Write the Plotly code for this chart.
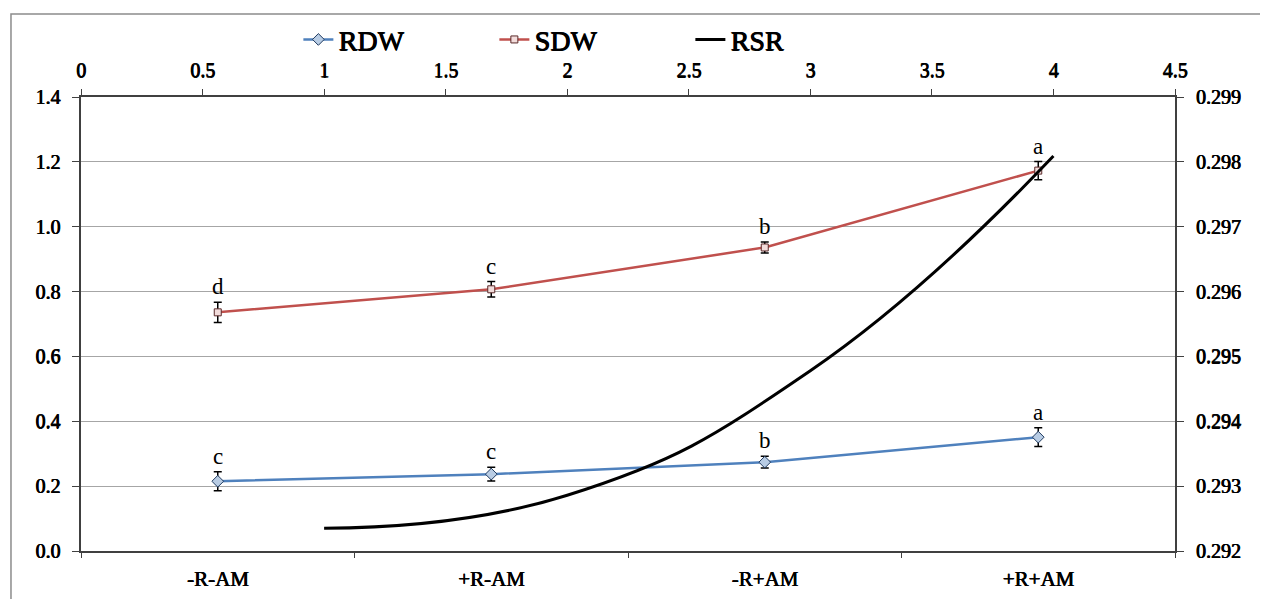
import plotly.graph_objects as go

categories = ['-R-AM', '+R-AM', '-R+AM', '+R+AM']
rdw = [0.215, 0.237, 0.274, 0.351]
rdw_err = [0.029, 0.021, 0.018, 0.029]
rdw_letters = ['c', 'c', 'b', 'a']
sdw = [0.736, 0.807, 0.936, 1.173]
sdw_err = [0.031, 0.024, 0.017, 0.028]
sdw_letters = ['d', 'c', 'b', 'a']
rsr_x = [1, 2, 3, 4]
rsr = [0.29235, 0.29286, 0.29478, 0.29809]

SERIF = "Liberation Serif, Times New Roman, serif"
BOLD_SHADOW = '0.7px 0 0 black, 0.35px 0.25px 0 black'
BLUE = '#4F81BD'
RED = '#C0504D'

fig = go.Figure()
fig.add_trace(go.Scatter(
    x=categories, y=rdw, name='RDW', mode='lines+markers',
    line=dict(color=BLUE, width=2.5),
    marker=dict(symbol='diamond', size=9, color='#B8CCE4', line=dict(color='#1F3A5F', width=1)),
    error_y=dict(type='data', array=rdw_err, color='black', thickness=1.5, width=4),
))
fig.add_trace(go.Scatter(
    x=categories, y=sdw, name='SDW', mode='lines+markers',
    line=dict(color=RED, width=2.5),
    marker=dict(symbol='square', size=7, color='#F2DCDB', line=dict(color='#5a2a2a', width=1)),
    error_y=dict(type='data', array=sdw_err, color='black', thickness=1.5, width=4),
))
fig.add_trace(go.Scatter(
    x=rsr_x, y=rsr, name='RSR', mode='lines', xaxis='x2', yaxis='y2',
    line=dict(color='black', width=3, shape='spline', smoothing=1.3),
))

annotations = []
for cat, v, e, t in zip(categories, rdw, rdw_err, rdw_letters):
    annotations.append(dict(x=cat, y=v + e, xref='x', yref='y', text=t, showarrow=False,
                            yanchor='bottom', yshift=1, font=dict(family=SERIF, size=23, color='black')))
for cat, v, e, t in zip(categories, sdw, sdw_err, sdw_letters):
    annotations.append(dict(x=cat, y=v + e, xref='x', yref='y', text=t, showarrow=False,
                            yanchor='bottom', yshift=1, font=dict(family=SERIF, size=23, color='black')))

tickfont = dict(family=SERIF, size=20, color='black', shadow=BOLD_SHADOW)
catfont = dict(family=SERIF, size=21, color='black', shadow=BOLD_SHADOW)

fig.update_layout(
    width=1268, height=599,
    margin=dict(l=73, r=101, t=89, b=56, autoexpand=False),
    paper_bgcolor='white', plot_bgcolor='white',
    font=dict(family=SERIF, color='black'),
    showlegend=True,
    legend=dict(orientation='h', xref='container', yref='container', x=0.229, y=0.947,
                xanchor='left', yanchor='middle',
                entrywidth=151, entrywidthmode='pixels',
                font=dict(family=SERIF, size=28, color='black', shadow='0.8px 0 0 black, 0.4px 0.3px 0 black'),
                bgcolor='rgba(0,0,0,0)', itemwidth=30, tracegroupgap=0),
    xaxis=dict(type='category', showline=True, linecolor='#404040', linewidth=1.5,
               ticks='outside', ticklen=5, tickcolor='#404040', tickson='boundaries',
               showgrid=False, tickfont=catfont, mirror=False, range=[-0.5, 3.5],
               ticklabelstandoff=8, automargin=False),
    yaxis=dict(range=[0, 1.4], dtick=0.2, tickformat='.1f', showline=True, linecolor='#404040',
               linewidth=1.5, ticks='outside', ticklen=7, tickcolor='#404040',
               showgrid=True, gridcolor='#A6A6A6', gridwidth=1, zeroline=False, tickfont=tickfont,
               ticklabelstandoff=8, automargin=False),
    xaxis2=dict(overlaying='x', side='top', anchor='y', range=[0, 4.5], dtick=0.5,
                showline=True, linecolor='#404040', linewidth=1.5, ticks='outside', ticklen=6,
                tickcolor='#404040', showgrid=False, zeroline=False, tickfont=tickfont,
                ticklabelstandoff=4, automargin=False),
    yaxis2=dict(overlaying='y', side='right', anchor='x', range=[0.292, 0.299], dtick=0.001,
                tickformat='.3f', showline=True, linecolor='#404040', linewidth=1.5,
                ticks='outside', ticklen=7, tickcolor='#404040', showgrid=False, zeroline=False,
                tickfont=tickfont, ticklabelstandoff=8, automargin=False),
    annotations=annotations,
    shapes=[dict(type='rect', xref='paper', yref='paper', x0=-0.064, y0=-0.3, x1=1.3, y1=1.183,
                 line=dict(color='#8c8c8c', width=1.5), fillcolor='rgba(0,0,0,0)', layer='below')],
)

fig.write_html("out.html")
